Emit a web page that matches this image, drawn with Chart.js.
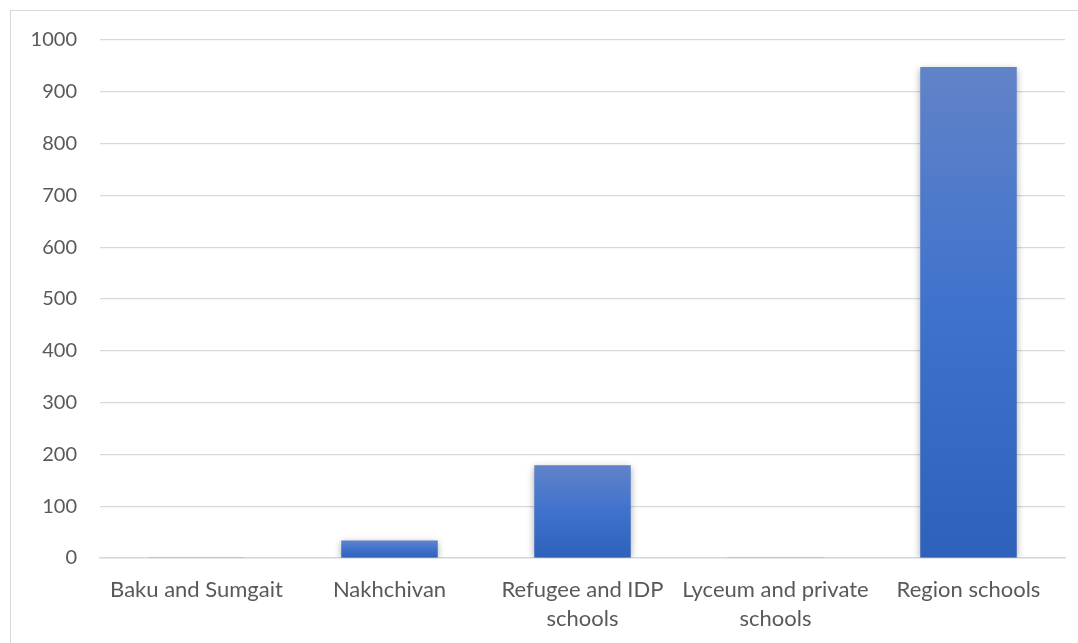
<!DOCTYPE html>
<html>
<head>
<meta charset="utf-8">
<script src="https://cdn.jsdelivr.net/npm/chart.js@4/dist/chart.umd.min.js"></script>
<style>
  html, body { margin: 0; padding: 0; background: #fff; overflow: hidden; }
  #frame {
    position: absolute; left: 10px; top: 10px;
    width: 1080px; height: 640px;
    border: 1px solid #d9d9d9;
  }
  #wrap { position: absolute; left: 0; top: -6px; width: 1067px; height: 638px; }
</style>
</head>
<body>
<div id="frame"><div id="wrap"><canvas id="schoolsChart"></canvas></div></div>
<script>
// School groups and counts
const categories = [
    'Baku and Sumgait',
    'Nakhchivan',
    ['Refugee and IDP', 'schools'],
    ['Lyceum and private', 'schools'],
    'Region schools'
];
const schoolCounts = [2, 34, 179, 2, 948];
const yTicks = [0, 100, 200, 300, 400, 500, 600, 700, 800, 900, 1000];

/**
 * Vertical gradient from the top of each bar down to the baseline.
 * @param {Object} ctx - scriptable context
 */
function barGradient(ctx) {
    const chart = ctx.chart;
    const yScale = chart.scales.y;
    if (!yScale || ctx.raw === undefined) return '#4472c4';
    const top = yScale.getPixelForValue(ctx.raw);
    const base = yScale.getPixelForValue(0);
    if (!isFinite(top) || !isFinite(base)) return '#4472c4';
    if (base - top < 3) return '#a3b3d8';
    const g = chart.ctx.createLinearGradient(0, top, 0, base);
    g.addColorStop(0, '#6183c8');
    g.addColorStop(0.5, '#3f72cd');
    g.addColorStop(1, '#2e61ba');
    return g;
}

// soft drop shadow behind the bars
const barShadow = {
    id: 'barShadow',
    beforeDatasetDraw(chart) {
        const c = chart.ctx;
        c.save();
        c.shadowColor = 'rgba(0, 0, 0, 0.33)';
        c.shadowBlur = 7;
        c.shadowOffsetX = 0;
        c.shadowOffsetY = 2;
    },
    afterDatasetDraw(chart) {
        chart.ctx.restore();
    }
};

const fontFamily = 'Lato, "Open Sans", sans-serif';

new Chart(document.getElementById('schoolsChart').getContext('2d'), {
    type: 'bar',
    data: {
        labels: categories,
        datasets: [{
            data: schoolCounts,
            backgroundColor: barGradient,
            borderWidth: 0,
            barPercentage: 0.5,
            categoryPercentage: 1.0
        }]
    },
    options: {
        responsive: true,
        maintainAspectRatio: false,
        animation: false,
        layout: { padding: { top: 22, right: 13, bottom: 0, left: 0 } },
        plugins: {
            legend: { display: false },
            tooltip: { enabled: false }
        },
        scales: {
            x: {
                grid: { display: false, drawTicks: false },
                border: { display: true, color: '#d9d9d9', width: 1.5 },
                ticks: {
                    color: '#595959',
                    font: { family: fontFamily, size: 22, lineHeight: 1.32 },
                    padding: 17,
                    maxRotation: 0,
                    autoSkip: false
                },
                afterFit(scale) { scale.height = 85; }
            },
            y: {
                min: 0,
                max: 1000,
                afterBuildTicks(scale) {
                    scale.ticks = yTicks.map(v => ({ value: v }));
                },
                grid: { color: '#d9d9d9', lineWidth: 1.2, drawTicks: false },
                border: { display: false },
                ticks: {
                    color: '#595959',
                    font: { family: fontFamily, size: 20 },
                    padding: 23,
                    callback: (v) => String(v)
                },
                afterFit(scale) { scale.width = 89; }
            }
        }
    },
    plugins: [barShadow]
});
</script>
</body>
</html>
